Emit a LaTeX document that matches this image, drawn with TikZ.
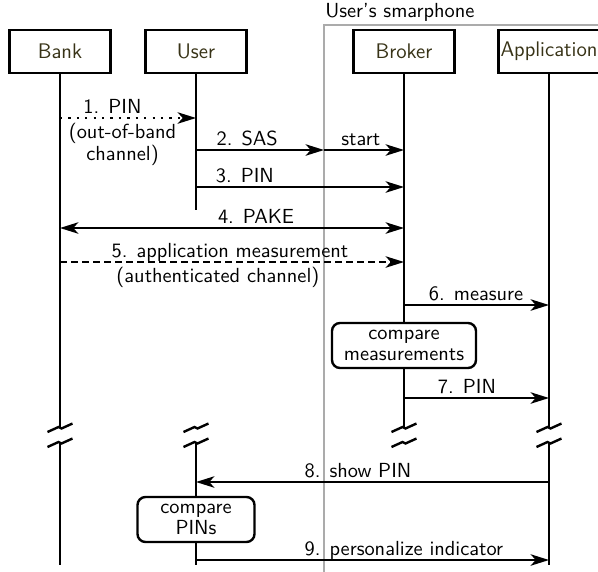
\documentclass[tikz,border=0pt]{standalone}
\usepackage{tikz}
\usetikzlibrary{arrows.meta,calc}
\newlength{\du}
\setlength{\du}{0.535pt}
\definecolor{dialinecolor}{rgb}{0.000000, 0.000000, 0.000000}
\definecolor{diagreycolor}{rgb}{0.670000, 0.670000, 0.670000}
\definecolor{diatextcolor}{rgb}{0.220000, 0.200000, 0.090000}
\tikzset{
  actor/.style={draw=dialinecolor, line width=2.4\du, fill=white, minimum width=101\du, minimum height=43\du, inner sep=0pt, text=diatextcolor, font=\sffamily\fontsize{11.3}{13.6}\selectfont},
  task/.style={draw=dialinecolor, line width=2.4\du, fill=white, rounded corners=8\du, align=center, inner sep=0pt, font=\sffamily\fontsize{10.9}{11.2}\selectfont},
  lifeline/.style={draw=dialinecolor, line width=2.4\du},
  brk/.style={draw=dialinecolor, line width=2.4\du, line join=miter},
  tip/.tip={Stealth[length=9.8pt,width=6.1pt,inset=2.7pt]},
  msg/.style={draw=dialinecolor, line width=2.4\du, -tip},
  lbl/.style={above, inner sep=2pt, text depth=0pt, font=\sffamily\fontsize{10.9}{13}\selectfont},
  lblbelow/.style={below, inner sep=2pt, align=center, font=\sffamily\fontsize{10.9}{8}\selectfont}
}

\begin{document}
\begin{tikzpicture}[even odd rule]
\pgftransformxscale{1.000000}
\pgftransformyscale{-1.000000}
\useasboundingbox (0\du,0\du) rectangle (598\du,571\du);
\clip (0\du,0\du) rectangle (598\du,571\du);
% the phone
\coordinate (phoneedge) at (324\du,25\du);
\draw[draw=diagreycolor, line width=2.2\du] (324\du,620\du) -- (phoneedge) -- (640\du,25\du);
\node[anchor=base west, inner sep=0pt, font=\sffamily\fontsize{10.9}{13}\selectfont] (phone) at (325\du,17.5\du) {User's smarphone};
% parties
\node[actor] (bank) at (60\du,51.5\du) {Bank};
\node[actor] (user) at (196\du,51.5\du) {User};
\node[actor] (broker) at (404\du,51.5\du) {Broker};
\node[actor] (app) at (549\du,51.5\du) {Application};
% rows
\coordinate (r1) at (0\du,118\du);
\coordinate (r2) at (0\du,150\du);
\coordinate (r3) at (0\du,187\du);
\coordinate (r4) at (0\du,228\du);
\coordinate (r5) at (0\du,262\du);
\coordinate (r6) at (0\du,305\du);
\coordinate (r7) at (0\du,398\du);
\coordinate (r8) at (0\du,482\du);
\coordinate (r9) at (0\du,560\du);
\coordinate (uend) at (0\du,210\du);
\coordinate (b1) at (0\du,428\du);
\coordinate (b2) at (0\du,443\du);
\coordinate (bend) at (0\du,565\du);
% lifelines
\draw[lifeline] (bank) -- (bank |- b1);
\draw[lifeline] (user) -- (user |- uend);
\draw[lifeline] (broker) -- (broker |- b1);
\draw[lifeline] (app) -- (app |- b1);
\draw[lifeline] (bank |- b2) -- (bank |- bend);
\draw[lifeline] (user |- b2) -- (user |- bend);
\draw[lifeline] (app |- b2) -- (app |- bend);
\foreach \who in {bank,user,broker,app}{
  \foreach \brkrow in {b1,b2}{
    \draw[brk] ($(\who |- \brkrow)+(-12.5\du,4\du)$) -- ++(11\du,-5\du) -- ++(3\du,1.5\du) -- ++(11\du,-5\du);
  }
}
% local steps
\node[task, minimum width=144\du, minimum height=45\du] (cmpmeas) at (404\du,345.5\du) {compare\\measurements};
\node[task, minimum width=117\du, minimum height=45\du] (cmppin) at (196\du,519.5\du) {compare\\PINs};
% messages
\draw[msg, dash pattern=on 1.2pt off 3.3pt] (bank |- r1) -- node[lbl, pos=0.386] {1. PIN} node[lblbelow, pos=0.46] {(out-of-band\\channel)} (user |- r1);
\draw[msg] (user |- r2) -- node[lbl, pos=0.40] {2. SAS} (phoneedge |- r2);
\draw[msg] (phoneedge |- r2) -- node[lbl, pos=0.46] {start} (broker |- r2);
\draw[msg] (user |- r3) -- node[lbl, pos=0.235] {3. PIN} (broker |- r3);
\draw[msg, tip-tip] (bank |- r4) -- node[lbl, pos=0.57] {4. PAKE} (broker |- r4);
\draw[msg, dash pattern=on 3.75pt off 2.14pt] (bank |- r5) -- node[lbl, pos=0.494] {5. application measurement} node[lblbelow, pos=0.459] {(authenticated channel)} (broker |- r5);
\draw[msg] (broker |- r6) -- node[lbl, pos=0.497] {6. measure} (app |- r6);
\draw[msg] (broker |- r7) -- node[lbl, pos=0.434] {7. PIN} (app |- r7);
\draw[msg] (app |- r8) -- node[lbl, pos=0.541] {8. show PIN} (user |- r8);
\draw[msg] (user |- r9) -- node[lbl, pos=0.589] {9. personalize indicator} (app |- r9);
\end{tikzpicture}
\end{document}
